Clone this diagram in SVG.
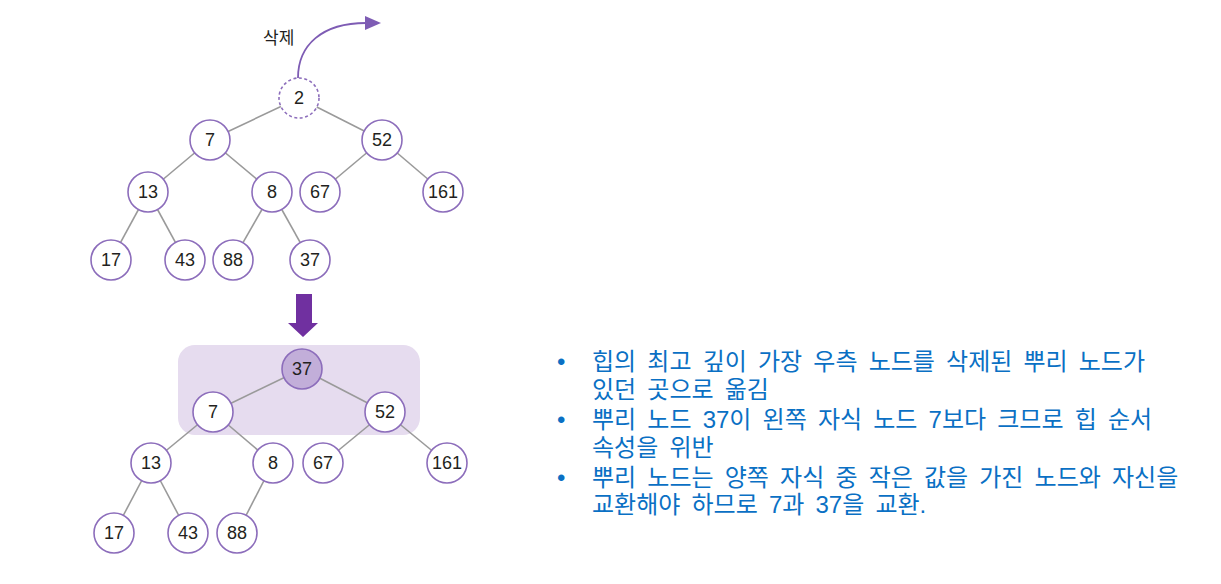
<svg xmlns="http://www.w3.org/2000/svg" width="1221" height="584" viewBox="0 0 1221 584">
<style>
.n circle{fill:#fff;stroke:#8c6dbb;stroke-width:1.6}
.n text{font-family:"Liberation Sans",Arial,sans-serif;font-size:18px;fill:#231f20;text-anchor:middle}
.e line{stroke:#9a9a9a;stroke-width:1.6}
.t{font-family:"Liberation Sans","Noto Sans CJK KR",sans-serif;font-size:24px;word-spacing:4.5px;fill:#0a70c4}
</style>
<rect width="1221" height="584" fill="#fff"/>
<rect x="178" y="345" width="242" height="90" rx="17" fill="#e6dcef"/>
<g id="connectors">
<g class="e">
<line x1="299" y1="98" x2="210" y2="140"/>
<line x1="299" y1="98" x2="382" y2="140"/>
<line x1="210" y1="140" x2="148" y2="192"/>
<line x1="210" y1="140" x2="272" y2="192"/>
<line x1="382" y1="140" x2="320" y2="192"/>
<line x1="382" y1="140" x2="443" y2="192"/>
<line x1="148" y1="192" x2="111" y2="260"/>
<line x1="148" y1="192" x2="185" y2="260"/>
<line x1="272" y1="192" x2="233" y2="260"/>
<line x1="272" y1="192" x2="310" y2="260"/>
<line x1="302" y1="369" x2="213" y2="412"/>
<line x1="302" y1="369" x2="385" y2="412"/>
<line x1="213" y1="412" x2="151" y2="463"/>
<line x1="213" y1="412" x2="273" y2="463"/>
<line x1="385" y1="412" x2="323" y2="463"/>
<line x1="385" y1="412" x2="447" y2="463"/>
<line x1="151" y1="463" x2="114" y2="533"/>
<line x1="151" y1="463" x2="188" y2="533"/>
<line x1="273" y1="463" x2="237" y2="533"/>
</g>
<path d="M298,78 C298,45 322,23 366,23" fill="none" stroke="#7e5cb4" stroke-width="1.8"/>
<path d="M365,16 L381,23 L365,30 Z" fill="#7e5cb4"/>
<path d="M296,294 H312 V323 H318 L303,337 L288,323 H296 Z" fill="#7030a0"/>
</g>
<text x="263" y="44" font-family="Noto Sans CJK KR,sans-serif" font-size="17" fill="#231f20">삭제</text>
<g id="n2" class="n"><circle cx="299" cy="98" r="20" stroke-dasharray="3,2.5"/><text x="299" y="104">2</text></g>
<g id="n7" class="n"><circle cx="210" cy="140" r="20"/><text x="210" y="146">7</text></g>
<g id="n52" class="n"><circle cx="382" cy="140" r="20"/><text x="382" y="146">52</text></g>
<g id="n13" class="n"><circle cx="148" cy="192" r="20"/><text x="148" y="198">13</text></g>
<g id="n8" class="n"><circle cx="272" cy="192" r="20"/><text x="272" y="198">8</text></g>
<g id="n67" class="n"><circle cx="320" cy="192" r="20"/><text x="320" y="198">67</text></g>
<g id="n161" class="n"><circle cx="443" cy="192" r="20"/><text x="443" y="198">161</text></g>
<g id="n17" class="n"><circle cx="111" cy="260" r="20"/><text x="111" y="266">17</text></g>
<g id="n43" class="n"><circle cx="185" cy="260" r="20"/><text x="185" y="266">43</text></g>
<g id="n88" class="n"><circle cx="233" cy="260" r="20"/><text x="233" y="266">88</text></g>
<g id="n37" class="n"><circle cx="310" cy="260" r="20"/><text x="310" y="266">37</text></g>
<g id="b37" class="n"><circle cx="302" cy="369" r="20" style="fill:#c2aed9"/><text x="302" y="375">37</text></g>
<g id="b7" class="n"><circle cx="213" cy="412" r="20"/><text x="213" y="418">7</text></g>
<g id="b52" class="n"><circle cx="385" cy="412" r="20"/><text x="385" y="418">52</text></g>
<g id="b13" class="n"><circle cx="151" cy="463" r="20"/><text x="151" y="469">13</text></g>
<g id="b8" class="n"><circle cx="273" cy="463" r="20"/><text x="273" y="469">8</text></g>
<g id="b67" class="n"><circle cx="323" cy="463" r="20"/><text x="323" y="469">67</text></g>
<g id="b161" class="n"><circle cx="447" cy="463" r="20"/><text x="447" y="469">161</text></g>
<g id="b17" class="n"><circle cx="114" cy="533" r="20"/><text x="114" y="539">17</text></g>
<g id="b43" class="n"><circle cx="188" cy="533" r="20"/><text x="188" y="539">43</text></g>
<g id="b88" class="n"><circle cx="237" cy="533" r="20"/><text x="237" y="539">88</text></g>
<g id="notes">
<text class="t"><tspan x="557" y="370">•</tspan><tspan x="592" y="370">힙의 최고 깊이 가장 우측 노드를 삭제된 뿌리 노드가</tspan><tspan x="592" y="398">있던 곳으로 옮김</tspan><tspan x="557" y="428">•</tspan><tspan x="592" y="428">뿌리 노드 37이 왼쪽 자식 노드 7보다 크므로 힙 순서</tspan><tspan x="592" y="456">속성을 위반</tspan><tspan x="557" y="486">•</tspan><tspan x="592" y="486">뿌리 노드는 양쪽 자식 중 작은 값을 가진 노드와 자신을</tspan><tspan x="592" y="513">교환해야 하므로 7과 37을 교환.</tspan></text>
</g>
</svg>
